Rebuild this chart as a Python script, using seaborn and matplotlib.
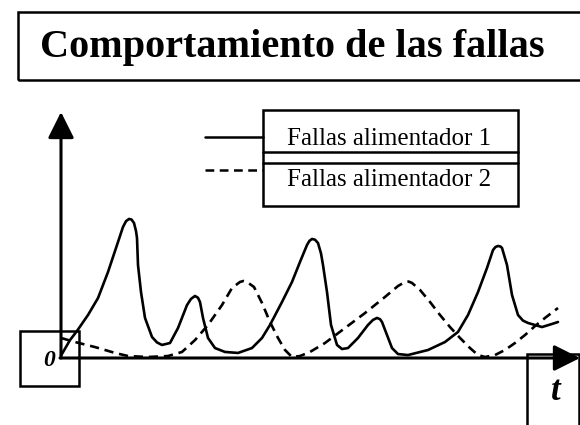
import pandas as pd
import matplotlib.pyplot as plt
import matplotlib.patches as patches
import seaborn as sns

# Curve 1: solid line (time, number of faults)
t_alim1 = [0, 1.8, 3.2, 5.4, 7.4, 9.4, 11.2, 12.4, 13.0, 13.6, 14.1, 14.6, 15.0, 15.2,
           15.4, 16, 16.8, 18.2, 19.2, 20.2, 21.8, 23.4, 25.2, 26.0, 26.8, 27.4, 27.8,
           28.4, 29.4, 30.8, 32.8, 35.4, 38.2, 40.2, 41.8, 44.2, 46.2, 47.8, 49.2,
           49.7, 50.2, 50.8, 51.4, 52.0, 52.4, 53.2, 54, 55.2, 56.2, 57.4, 59.4,
           61.4, 62.4, 63.2, 63.8, 64.2, 65.2, 66.2, 67.4, 69.4, 73.4, 76.8, 79.4,
           81.4, 83.4, 85.2, 86.4, 86.9, 87.4, 87.9, 88.2, 89.2, 90.2, 91.4, 92.4,
           93.4, 96.2, 98.2, 99.4]
f_alim1 = [1, 12.1, 18.6, 30, 42.1, 60.7, 80, 92.9, 97.0, 98.6, 98.2, 95.7, 90, 85,
           65.7, 46.4, 27.9, 14.3, 10.4, 8.6, 10, 20.7, 37.1, 41.5, 43.6, 42.3, 39.3,
           27.9, 13.6, 6.4, 3.6, 2.9, 6.4, 13.6, 22.9, 39.3, 53.6, 67.9, 80,
           83, 84.3, 83.8, 81.4, 74, 65.7, 46.4, 22.9, 8.6, 5.7, 6.4, 13.6,
           22.9, 26.5, 27.9, 27.0, 25, 15.7, 6.4, 2.1, 1.4, 5, 10.7, 17.9,
           30, 46.4, 63.6, 76.4, 78.6, 79.3, 78.9, 77.9, 65.7, 44.3, 30, 26,
           24.3, 21.4, 23.6, 25]

# Curve 2: dashed line
t_alim2 = [0, 2.8, 6.8, 10.8, 13.4, 17.4, 21.4, 24.2, 26.8, 29.4, 32.2, 34.2, 35.8,
           36.5, 37.2, 38.6, 40.2, 41.8, 43.4, 44.8, 46.2, 47.8, 49.8, 52.8, 56.8,
           60.8, 64.8, 67.4, 68.8, 69.5, 70.2, 71.8, 73.8, 75.8, 77.8, 79.8, 81.8,
           83.4, 84.8, 86.8, 88.8, 90.8, 92.8, 94.8, 96.8, 99.4]
f_alim2 = [13.6, 10.7, 7.1, 2.9, 0.7, 0, 0.7, 3.6, 12.1, 22.9, 37.1, 49.3, 53.6,
           54.3, 53.6, 50, 38.6, 25, 13.6, 5, 0, 0.7, 3.6, 10, 20.7,
           31.4, 42.9, 50.7, 53.6, 53.9, 52.9, 47.9, 39.3, 30, 21.4, 13.6, 6.4,
           1.4, 0, 1.4, 5, 10, 15.7, 22.1, 27.9, 35]

series_names = ["Fallas alimentador 1", "Fallas alimentador 2"]
title = "Comportamiento de las fallas"

df = pd.concat([
    pd.DataFrame({"t": t_alim1, "fallas": f_alim1, "serie": series_names[0]}),
    pd.DataFrame({"t": t_alim2, "fallas": f_alim2, "serie": series_names[1]}),
])

sns.set_theme(style="white")
plt.rcParams["font.family"] = ["Liberation Serif", "DejaVu Serif"]
plt.rcParams["text.color"] = "black"

W, H = 580, 425
fig = plt.figure(figsize=(W / 100, H / 100), dpi=100)
ax = fig.add_axes([0, 0, 1, 1])
ax.set_xlim(-12.2, 103.8)
ax.set_ylim(-48.571, 255)
ax.set_axis_off()


def px(x, y):
    # pixel position (from top-left) -> axes fraction
    return (x / W, 1 - y / H)


sns.lineplot(data=df, x="t", y="fallas", style="serie", color="black",
             dashes={series_names[0]: "", series_names[1]: (3.5, 2.2)},
             estimator=None, sort=False, linewidth=1.9, legend=False, ax=ax)
for line in ax.lines:
    line.set_solid_joinstyle("round")

# axes with arrow heads
arrow = dict(arrowstyle="-|>,head_length=0.8,head_width=0.4", mutation_scale=20,
             lw=2.2, color="black", shrinkA=0, shrinkB=0)
ax.annotate("", xy=px(61, 112), xytext=px(61, 358), xycoords="axes fraction",
            arrowprops=arrow)
ax.annotate("", xy=px(580, 358), xytext=px(60, 358), xycoords="axes fraction",
            arrowprops=arrow)


def box(x0, y0, x1, y1, lw=1.8):
    ax.add_patch(patches.Rectangle(px(x0, y1), (x1 - x0) / W, (y1 - y0) / H,
                                   transform=ax.transAxes, fill=False,
                                   edgecolor="black", lw=lw, clip_on=False))


# title box
box(18, 12, 585, 80)
ax.text(*px(292, 47), title, transform=ax.transAxes, ha="center", va="center",
        fontsize=29, fontweight="bold", color="black")

# origin label and t label
box(20, 331, 79, 386)
ax.text(*px(49, 360), "0", transform=ax.transAxes, ha="center", va="center",
        fontsize=17, fontweight="bold", fontstyle="italic")
box(527, 354, 579, 430)
ax.text(*px(556, 392), "t", transform=ax.transAxes, ha="center", va="center",
        fontsize=25, fontweight="bold", fontstyle="italic")

# legend
box(263, 110, 518, 206)
for yy in (152, 163):
    ax.plot([263 / W, 518 / W], [1 - yy / H] * 2, color="black", lw=1.8,
            transform=ax.transAxes)
ax.plot([205 / W, 263 / W], [1 - 137 / H] * 2, color="black", lw=1.8,
        transform=ax.transAxes)
ax.plot([205 / W, 263 / W], [1 - 170 / H] * 2, color="black", lw=1.8,
        dashes=(3.5, 2.2), transform=ax.transAxes)
ax.text(*px(287, 139), series_names[0], transform=ax.transAxes, ha="left",
        va="center", fontsize=18, color="black")
ax.text(*px(287, 180), series_names[1], transform=ax.transAxes, ha="left",
        va="center", fontsize=18, color="black")

fig.savefig("out.png", dpi=100)
